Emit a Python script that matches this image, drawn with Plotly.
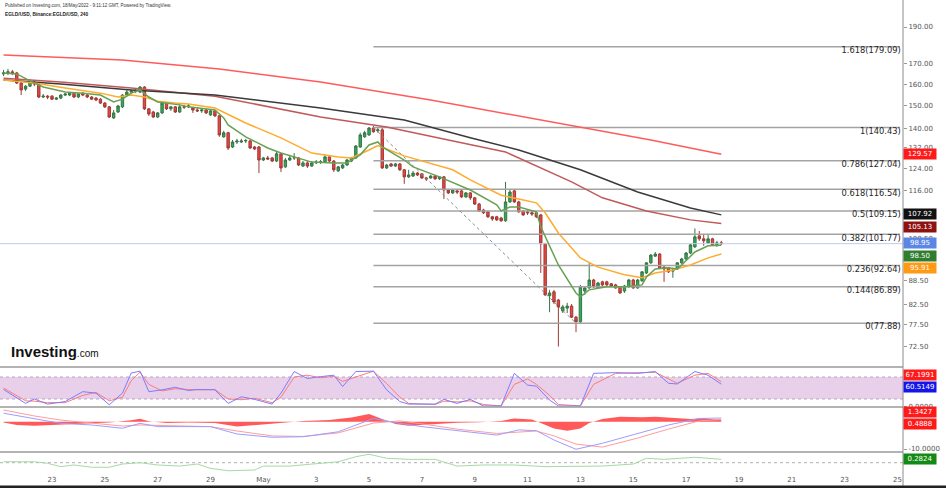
import math
import pandas as pd
import plotly.graph_objects as go

# ---------------- data ----------------
opens = [165.0,165.5,166.0,165.5,160.5,157.6,159.0,161.0,160.0,153.9,
154.3,154.3,152.9,153.4,154.8,154.8,155.7,153.9,155.7,154.8,
153.9,153.4,152.9,151.1,149.4,144.5,147.1,149.4,154.8,156.2,
156.7,156.2,158.6,148.5,147.1,144.9,146.7,151.1,148.5,149.4,
147.1,149.4,149.4,148.9,148.0,147.6,148.0,145.8,147.6,145.4,
136.5,138.2,132.4,134.4,134.4,134.8,134.8,132.4,132.4,127.3,
128.1,128.1,126.9,129.7,124.7,127.3,128.1,128.1,125.0,126.2,
125.0,126.2,126.5,126.5,128.5,126.9,123.2,124.3,125.4,126.9,
128.1,132.4,136.5,137.3,140.2,139.0,139.4,124.3,125.8,125.0,
125.8,123.6,121.0,121.3,122.4,122.1,120.6,120.6,121.3,120.3,
121.0,116.3,115.3,116.0,116.0,113.9,115.3,113.6,111.5,109.5,
108.9,107.3,107.3,106.9,106.0,112.2,116.0,112.2,109.2,108.9,
108.6,108.6,107.9,98.9,84.6,85.6,83.5,80.8,81.5,82.0,
79.3,78.2,85.8,86.6,88.7,86.6,88.2,88.2,87.7,87.4,
86.9,85.8,86.9,88.7,86.6,88.5,90.6,93.4,95.3,95.9,
92.2,92.0,91.1,91.7,93.4,94.5,96.2,98.0,101.3,100.4,
99.2,100.4,98.6,99.2]
closes = [165.5,166.0,165.5,160.5,157.2,159.0,161.0,160.0,153.9,154.3,
153.9,152.9,153.4,154.8,155.3,155.7,153.9,155.3,154.8,153.9,
152.9,152.5,151.1,149.4,144.9,146.7,149.8,154.8,156.2,156.7,
156.8,158.6,148.5,146.2,144.9,146.7,151.1,148.5,149.4,147.1,
149.4,149.3,149.8,148.0,147.6,148.0,146.7,147.6,145.4,137.3,
138.2,132.0,134.4,134.8,134.8,135.0,132.0,131.6,127.3,128.1,
127.7,126.9,129.7,124.3,127.3,128.1,128.2,125.4,126.2,125.0,
126.2,126.5,126.6,128.5,126.9,123.6,124.7,125.4,127.3,128.1,
132.8,137.3,138.2,140.2,138.6,139.4,124.3,125.4,125.0,125.8,
123.6,121.0,121.7,122.4,121.7,120.6,120.3,121.3,120.3,121.0,
116.3,115.3,116.3,115.6,113.9,115.3,113.6,111.5,109.2,108.6,
107.3,106.6,106.3,106.0,112.2,115.6,112.2,108.9,107.9,108.6,
108.2,107.3,98.9,84.8,85.3,83.0,81.8,81.8,82.0,79.3,
78.2,86.9,86.6,88.7,86.9,87.9,87.4,87.4,87.1,86.6,
85.3,87.1,88.7,86.6,88.7,90.9,93.4,95.6,95.9,92.0,
91.7,90.9,91.4,93.4,94.5,96.2,98.6,101.0,100.4,99.8,
100.4,98.6,99.2,98.95]
highs = [167.0,167.5,167.0,166.0,161.0,159.5,162.4,161.5,160.5,155.3,
154.8,154.8,153.9,155.3,155.7,156.2,156.2,155.7,156.2,155.3,
154.3,153.9,153.4,151.6,149.8,148.0,150.3,155.3,157.2,157.2,
157.6,159.0,159.0,148.9,147.6,147.1,151.6,151.6,149.8,149.8,
150.3,150.3,150.7,148.9,148.9,148.5,148.5,148.0,148.0,145.8,
139.0,138.6,135.2,135.7,135.7,135.7,135.2,132.8,132.8,128.5,
128.9,128.5,130.4,130.0,128.1,129.3,130.0,128.5,126.9,126.9,
126.9,127.3,127.3,129.3,128.9,127.3,125.0,125.8,127.7,128.5,
133.2,138.2,139.0,140.6,141.1,140.2,140.2,125.8,126.2,126.2,
126.2,123.9,123.6,123.2,122.8,122.4,121.0,121.7,121.7,121.3,
121.3,116.7,116.7,116.3,116.3,115.6,115.6,113.9,111.9,109.9,
109.2,107.6,107.6,107.3,119.2,116.3,116.7,112.6,109.5,109.5,
109.2,108.9,108.2,99.2,86.1,86.1,83.8,82.3,82.8,82.5,
79.6,87.4,87.1,93.4,89.0,88.2,88.5,88.5,87.9,87.7,
87.1,87.4,89.0,89.0,89.0,91.1,93.6,95.9,96.5,96.2,
92.5,92.2,92.0,93.6,94.8,96.5,98.9,103.6,102.8,101.9,
101.6,100.7,99.8,99.8]
lows = [163.9,164.4,164.4,160.0,154.8,156.7,158.6,159.0,153.4,153.4,
152.9,152.5,152.5,152.9,154.3,154.3,153.4,153.4,154.3,153.4,
152.5,152.0,150.7,148.9,144.5,144.1,146.7,148.9,154.3,155.7,
155.7,155.7,148.0,145.4,144.5,144.5,146.2,148.0,147.6,146.7,
146.7,148.5,148.9,146.7,147.1,146.7,146.2,145.4,144.9,136.5,
136.1,131.2,132.0,133.6,134.0,134.0,131.6,131.2,122.4,126.9,
127.3,126.5,126.5,122.8,124.3,126.9,127.3,125.0,124.7,124.3,
124.7,125.8,125.8,126.2,126.5,122.8,122.8,123.9,125.0,126.5,
127.7,132.0,136.1,136.9,138.2,138.2,123.9,123.9,124.7,124.7,
123.2,118.5,120.6,121.0,121.3,120.3,119.5,120.3,119.9,119.9,
113.2,114.9,114.9,114.9,113.6,113.6,112.9,111.2,108.9,108.2,
106.9,106.0,106.0,105.7,105.7,111.9,111.9,108.6,107.6,107.9,
107.6,106.9,90.6,84.6,80.5,82.5,72.6,80.3,80.3,79.1,
75.8,77.7,84.8,86.4,86.6,86.4,87.1,87.1,86.9,86.4,
85.1,85.3,86.6,86.4,86.4,88.2,90.3,93.1,95.1,91.7,
88.2,90.6,89.3,91.4,93.1,94.2,95.9,97.7,99.8,98.3,
98.9,98.3,98.0,98.6]

# moving averages (candle index, value)
ma_green_idx = [0,3,7,9,14,18,22,24,25,27,29,31,33,35,37,40,42,48,50,51,55,60,63,70,75,78,79,81,83,85,86,91,93,97,99,106,112,113,115,117,121,122,126,130,131,133,137,141,145,146,148,151,153,154,157,160,163]
ma_green = [165.5,165.0,160.5,158.6,156.2,155.7,154.8,152.9,151.6,152.9,155.7,157.2,153.9,151.6,151.1,150.3,149.4,148.0,144.5,141.5,136.5,132.0,130.0,126.5,126.2,126.2,127.3,129.3,133.2,134.4,132.4,127.3,124.7,122.4,121.0,116.3,111.2,109.2,110.5,110.5,108.9,104.1,92.8,85.3,84.3,86.1,86.9,86.9,87.4,89.5,91.7,92.0,91.7,92.8,96.5,98.3,98.50]
ma_orange_idx = [0,7,14,22,26,29,32,35,39,42,48,55,63,70,76,79,83,85,91,102,106,113,117,121,123,126,131,135,141,145,148,152,156,160,163]
ma_orange = [162.0,160.5,158.1,155.7,153.9,154.8,153.9,152.0,151.1,150.7,148.9,142.3,136.1,130.0,128.5,128.1,131.2,133.0,128.9,123.6,119.9,114.5,113.2,111.9,108.6,102.2,94.8,92.2,90.1,89.3,90.6,91.4,92.8,94.8,95.91]
ma_black_idx = [0,13,29,48,72,91,106,117,131,137,144,156,163]
ma_black = [162.0,160.0,157.2,154.8,148.9,143.6,136.1,131.2,123.6,119.9,115.6,110.2,107.92]
ma_maroon_idx = [0,13,29,48,72,87,101,114,129,136,146,156,163]
ma_maroon = [162.9,161.0,158.1,154.3,144.9,140.6,135.2,130.4,119.2,113.6,109.2,106.3,105.13]
ma_red_idx = [0,27,49,72,97,122,131,147,163]
ma_red = [174.6,172.1,167.5,161.0,152.5,143.6,140.6,135.2,129.57]

# Fibonacci retracement
fib_ratios = ["1.618", "1", "0.786", "0.618", "0.5", "0.382", "0.236", "0.144", "0"]
fib_levels = [179.09, 140.43, 127.04, 116.54, 109.15, 101.77, 92.64, 86.89, 77.88]
fib_start_idx = 84
fib_end_idx = 130

# Stochastic RSI
stoch_idx = [0,5,7,10,14,18,21,24,27,29,31,33,36,39,42,44,48,51,54,57,61,63,66,69,72,75,77,80,84,87,90,92,98,100,103,106,109,113,116,119,121,124,126,131,134,139,144,148,151,153,157,160,163]
stoch_k = [46,8,20,6,13,40,36,4,36,91,96,40,45,52,43,46,45,8,26,19,6,36,95,76,81,85,54,95,96,45,13,6,6,19,8,19,1,1,90,58,55,17,1,1,90,92,90,95,63,61,95,85,60.5149]
stoch_d = [50,15,14,10,10,30,38,15,25,70,93,60,42,48,46,45,46,20,18,22,10,25,80,85,78,82,68,80,96,62,25,8,5,14,12,15,5,1,60,75,60,30,5,1,60,90,91,93,75,63,85,90,67.1991]

# MACD
macd_idx = [0,7,13,20,27,31,35,40,47,53,61,68,76,84,90,95,103,112,117,121,125,130,136,144,151,158,163]
macd_line = [3.1,1.2,-0.6,-1.2,-2.4,-0.6,-1.8,-1.8,-1.8,-4.5,-5.7,-5.5,-3.7,1.2,-0.6,-1.8,-3.3,-4.9,-3.0,-3.3,-6.7,-10.1,-7.9,-4.2,-1.2,1.2,1.3427]
macd_signal = [4.3,2.1,0.6,-0.5,-1.6,-1.2,-1.4,-1.6,-1.8,-3.4,-5.2,-5.4,-4.1,-0.5,0.3,-0.8,-2.7,-4.3,-3.8,-3.4,-5.2,-8.2,-9.3,-6.0,-2.7,0.3,0.85]
hist_idx = [0,3,7,13,20,24,29,31,33,37,42,48,53,57,63,68,74,79,83,86,89,92,97,103,108,113,116,120,122,125,128,131,133,136,140,145,148,153,156,159,163]
macd_hist = [-0.3,-1.2,-1.5,-1.0,-0.5,-0.3,0.5,1.1,0.2,-0.5,-0.3,-0.5,-1.8,-1.2,-0.3,0.3,0.6,1.5,2.8,1.0,-0.8,-1.5,-1.0,-0.4,-0.2,0.3,1.2,0.8,-0.5,-2.5,-3.3,-2.5,-0.5,1.0,1.8,1.6,1.8,1.3,1.0,1.3,0.4888]

# third oscillator
osc_idx = [0,7,10,13,16,20,24,27,31,35,40,44,47,51,57,59,65,70,76,80,83,87,92,98,103,109,116,123,129,136,143,146,150,157,163]
osc_vals = [0.08,0.08,-0.05,-0.33,-0.19,-0.38,-0.38,-0.11,0,-0.19,-0.28,-0.11,-0.47,-0.67,-0.61,-0.28,-0.28,-0.11,0.08,0.5,0.7,0.37,0.28,0.28,-0.28,-0.19,-0.19,-0.33,-0.28,-0.28,-0.11,0.37,0.28,0.45,0.2824]

# axis labels
x_tick_dates = ["2022-04-23","2022-04-25","2022-04-27","2022-04-29","2022-05-01","2022-05-03",
                "2022-05-05","2022-05-07","2022-05-09","2022-05-11","2022-05-13","2022-05-15",
                "2022-05-17","2022-05-19","2022-05-21","2022-05-23","2022-05-25"]
x_tick_text = ["23","25","27","29","May","3","5","7","9","11","13","15","17","19","21","23","25"]
price_ticks = [190, 170, 160, 150, 140, 132, 124, 116, 100.5, 88.5, 82.5, 77.5, 72.5]

# ---------------- figure ----------------
times = pd.date_range("2022-04-21 04:00", periods=len(closes), freq="4h")
def tx(idx):
    return [times[i] for i in idx]

X_START, X_END = "2022-04-21 00:46", "2022-05-25 05:03"
FIB_END = "2022-05-25 02:20"
FONT = "DejaVu Sans"

PB = 474.0  # pixel row of paper y = 0
def pp(pix):
    return (PB - pix) / PB

fig = go.Figure()

# fib lines
for lvl in fib_levels:
    fig.add_trace(go.Scatter(x=[times[fib_start_idx], FIB_END], y=[lvl, lvl], mode="lines",
                             line=dict(color="#a3a3a3", width=1.5), hoverinfo="skip", showlegend=False))
# current price line
fig.add_trace(go.Scatter(x=[X_START, X_END], y=[closes[-1], closes[-1]], mode="lines",
                         line=dict(color="#bccbf3", width=1), hoverinfo="skip", showlegend=False))
# fib diagonal
fig.add_trace(go.Scatter(x=[times[fib_start_idx], times[fib_end_idx]], y=[fib_levels[1], fib_levels[-1]],
                         mode="lines", line=dict(color="#8a8a8a", width=1, dash="dot"),
                         hoverinfo="skip", showlegend=False))

for idx, vals, col in [(ma_red_idx, ma_red, "#ff5b5b"), (ma_maroon_idx, ma_maroon, "#c05a5a"),
                       (ma_black_idx, ma_black, "#3a3a3a"), (ma_orange_idx, ma_orange, "#ffab2e"),
                       (ma_green_idx, ma_green, "#67a152")]:
    fig.add_trace(go.Scatter(x=tx(idx), y=vals, mode="lines", line=dict(color=col, width=1.5),
                             hoverinfo="skip", showlegend=False))

fig.add_trace(go.Candlestick(
    x=times, open=opens, high=highs, low=lows, close=closes,
    increasing=dict(fillcolor="#25b25a", line=dict(color="#3d7046", width=1)),
    decreasing=dict(fillcolor="#e9473f", line=dict(color="#9c3a36", width=1)),
    whiskerwidth=0, hoverinfo="skip", showlegend=False))

fig.add_trace(go.Scatter(
    x=["2022-05-25 03:00"] * len(fib_levels), y=fib_levels, mode="text",
    text=[f"{r}({v:.2f})" for r, v in zip(fib_ratios, fib_levels)],
    textposition="bottom left", textfont=dict(size=8.3, color="#262626", family=FONT),
    hoverinfo="skip", showlegend=False, cliponaxis=False))

# stochastic RSI
fig.add_trace(go.Scatter(x=tx(stoch_idx), y=stoch_d, yaxis="y2", mode="lines",
                         line=dict(color="#ff7a7a", width=1), hoverinfo="skip", showlegend=False))
fig.add_trace(go.Scatter(x=tx(stoch_idx), y=stoch_k, yaxis="y2", mode="lines",
                         line=dict(color="#7c7cff", width=1), hoverinfo="skip", showlegend=False))
# MACD
fig.add_trace(go.Scatter(x=tx(hist_idx), y=macd_hist, yaxis="y3", mode="lines", fill="tozeroy",
                         fillcolor="rgba(255,60,60,0.85)", line=dict(width=0, color="rgba(255,60,60,0.85)"),
                         hoverinfo="skip", showlegend=False))
fig.add_trace(go.Scatter(x=tx(macd_idx), y=macd_signal, yaxis="y3", mode="lines",
                         line=dict(color="#ff9c9c", width=1), hoverinfo="skip", showlegend=False))
fig.add_trace(go.Scatter(x=tx(macd_idx), y=macd_line, yaxis="y3", mode="lines",
                         line=dict(color="#9d9dff", width=1), hoverinfo="skip", showlegend=False))
# third oscillator
fig.add_trace(go.Scatter(x=tx(osc_idx), y=osc_vals, yaxis="y4", mode="lines",
                         line=dict(color="#a9d8a4", width=1), hoverinfo="skip", showlegend=False))

tickfont = dict(size=7, color="#555555", family=FONT)
fig.update_layout(
    width=946, height=488, margin=dict(l=0, r=43, t=0, b=14),
    paper_bgcolor="white", plot_bgcolor="white", hovermode=False,
    font=dict(family=FONT), boxgap=0.22,
    xaxis=dict(domain=[0, 1], type="date", range=[X_START, X_END], anchor="y4",
               tickmode="array", tickvals=x_tick_dates, ticktext=x_tick_text,
               showgrid=False, zeroline=False, showline=False, ticks="",
               tickfont=tickfont, rangeslider=dict(visible=False), fixedrange=True),
    yaxis=dict(domain=[pp(366), 1.0], type="log", range=[1.83543, 2.31411], side="right", anchor="x",
               tickmode="array", tickvals=price_ticks, ticktext=[f"{v:.2f}" for v in price_ticks],
               ticks="outside", ticklen=3, tickcolor="#999999", tickfont=tickfont,
               showgrid=False, zeroline=False, showline=False, fixedrange=True),
    yaxis2=dict(domain=[pp(407), pp(367)], range=[-1.9, 107.4], side="right", anchor="x",
                tickmode="array", tickvals=[0], ticktext=["0.0000"], ticks="outside", ticklen=3,
                tickcolor="#999999", tickfont=tickfont, showgrid=False, zeroline=False, fixedrange=True),
    yaxis3=dict(domain=[pp(451), pp(408)], range=[-10.73, 5.02], side="right", anchor="x",
                tickmode="array", tickvals=[-10], ticktext=["-10.0000"], ticks="outside", ticklen=3,
                tickcolor="#999999", tickfont=tickfont, showgrid=False, zeroline=False, fixedrange=True),
    yaxis4=dict(domain=[0, pp(452)], range=[-0.94, 0.89], side="right", anchor="x",
                showticklabels=False, showgrid=False, zeroline=False, fixedrange=True),
)

shapes = []
# stoch band
shapes.append(dict(type="rect", xref="paper", yref="y2", x0=0, x1=1, y0=20, y1=80,
                   fillcolor="#e8d0ea", line=dict(width=0), layer="below"))
for v in (20, 80):
    shapes.append(dict(type="line", xref="paper", yref="y2", x0=0, x1=1, y0=v, y1=v,
                       line=dict(color="#bba3bf", width=1, dash="dot"), layer="below"))
shapes.append(dict(type="line", xref="paper", yref="y4", x0=0, x1=1, y0=0, y1=0,
                   line=dict(color="#b0b0b0", width=1, dash="dot"), layer="below"))
# panel separators
for pix in (367, 407, 452):
    shapes.append(dict(type="line", xref="paper", yref="paper", x0=0, x1=1, y0=pp(pix), y1=pp(pix),
                       line=dict(color="#9a9a9a", width=1.5)))
# right axis line
shapes.append(dict(type="line", xref="paper", yref="paper", x0=1, x1=1, y0=pp(486), y1=1,
                   line=dict(color="#8c8c8c", width=1)))
# bottom border
shapes.append(dict(type="rect", xref="paper", yref="paper", x0=0, x1=946 / 903, y0=pp(488), y1=pp(485.5),
                   fillcolor="#222222", line=dict(width=0)))
fig.update_layout(shapes=shapes)

ann = []
def box(text, bg, yref, y, yshift=0):
    ann.append(dict(x=1, xref="paper", y=y, yref=yref, xanchor="left", yanchor="middle", yshift=yshift,
                    text=text, showarrow=False, bgcolor=bg, borderpad=0.5, width=31, height=9,
                    align="center", valign="middle",
                    font=dict(size=7, color="white", family=FONT)))

box("129.57", "#ff1a1a", "y", math.log10(ma_red[-1]))
box("107.92", "#111111", "y", math.log10(ma_black[-1]), 1)
box("105.13", "#8e1212", "y", math.log10(ma_maroon[-1]), -3)
box("98.95", "#5b86e6", "y", math.log10(closes[-1]), 1)
box("98.50", "#2f7d2f", "y", math.log10(ma_green[-1]), -10.5)
box("95.91", "#ff9a14", "y", math.log10(ma_orange[-1]), -13.5)
box("67.1991", "#ff1a1a", "y2", stoch_d[-1], 7)
box("60.5149", "#1515e8", "y2", stoch_k[-1], -3)
box("1.3427", "#ff1a1a", "y3", macd_line[-1], 6)
box("0.4888", "#ff1a1a", "y3", macd_hist[-1], -3.5)
box("0.2824", "#138a13", "y4", osc_vals[-1])

ann.append(dict(x=3 / 903, xref="paper", y=pp(6), yref="paper", xanchor="left", yanchor="middle",
                showarrow=False, text="Published on Investing.com, 18/May/2022 - 9:11:12 GMT, Powered by TradingView.",
                font=dict(size=4.5, color="#333333", family="Liberation Sans")))
ann.append(dict(x=3 / 903, xref="paper", y=pp(14.3), yref="paper", xanchor="left", yanchor="middle",
                showarrow=False, text="<b>EGLD/USD, Binance:EGLD/USD, 240</b>",
                font=dict(size=4.8, color="#222222", family="Liberation Sans")))
ann.append(dict(x=9 / 903, xref="paper", y=pp(351), yref="paper", xanchor="left", yanchor="middle",
                showarrow=False,
                text="<b>Investing</b><span style='font-size:10px'>.com</span>",
                font=dict(size=15, color="#111111", family="Liberation Sans")))
fig.update_layout(annotations=ann)

fig.write_html("out.html", config={"displayModeBar": False},
               post_script="document.body.style.margin='0px';document.body.style.overflow='hidden';")
